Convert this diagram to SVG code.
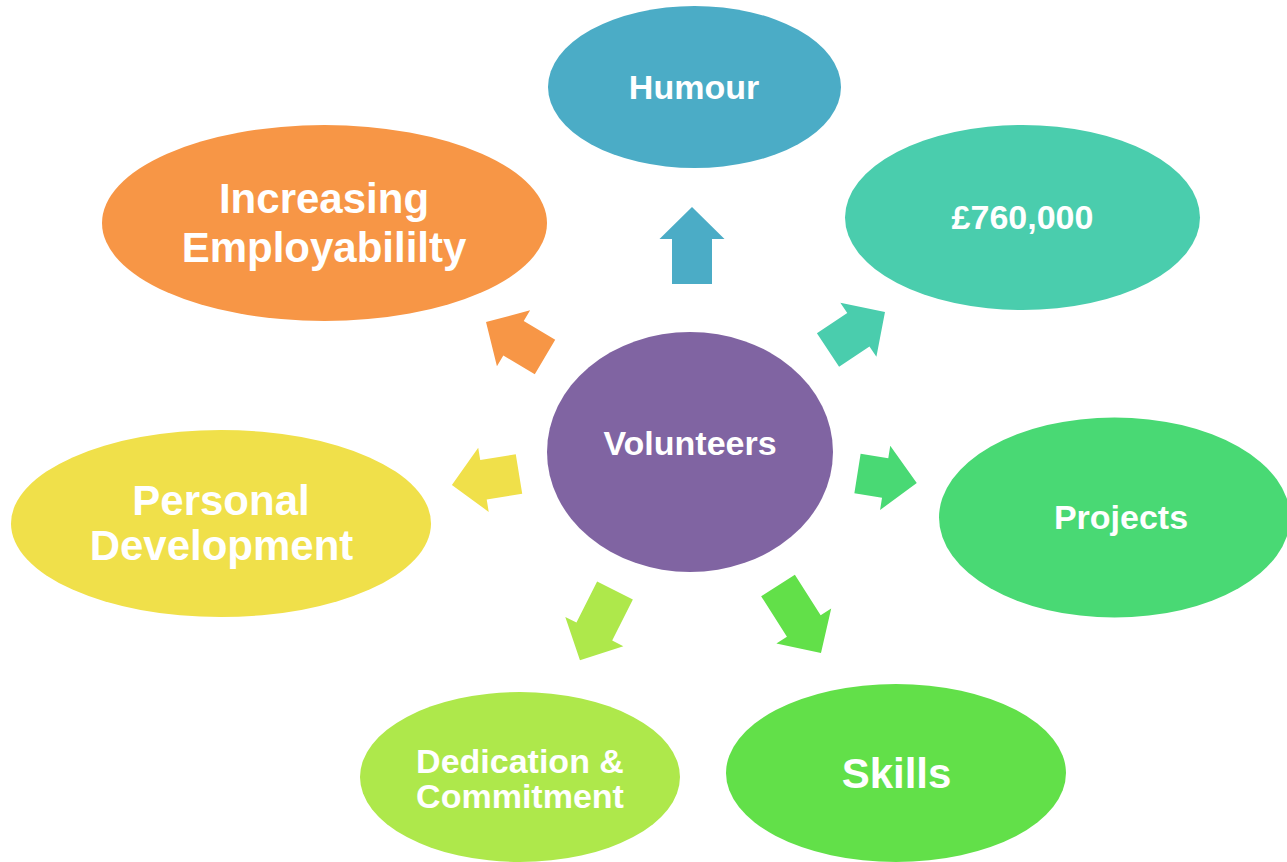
<svg xmlns="http://www.w3.org/2000/svg" width="1287" height="862" viewBox="0 0 1287 862">
<style>
text{font-family:"Liberation Sans",Arial,sans-serif;font-weight:bold;fill:#fff;text-anchor:middle}
.s34{font-size:34px}
.s42{font-size:42px}
</style>
<rect width="1287" height="862" fill="#fff"/>
<g id="connectors">
<g transform="translate(692,284) rotate(-90)"><path fill="#4BACC6" d="M0,-20H45V-32.5L77,0L45,32.5V20H0Z"/></g>
<g transform="translate(828,350) rotate(-33.7)"><path fill="#4ACDAD" d="M0,-20H36.5V-32.5L68.5,0L36.5,32.5V20H0Z"/></g>
<g transform="translate(857.5,473.5) rotate(9)"><path fill="#49D974" d="M0,-20H28V-32.5L60,0L28,32.5V20H0Z"/></g>
<g transform="translate(778,585.5) rotate(57.5)"><path fill="#62E049" d="M0,-20H48V-32.5L80,0L48,32.5V20H0Z"/></g>
<g transform="translate(615,590.5) rotate(116.7)"><path fill="#AEE84B" d="M0,-20H46V-32.5L78,0L46,32.5V20H0Z"/></g>
<g transform="translate(519,474) rotate(170.7)"><path fill="#F0E04A" d="M0,-20H36V-32.5L68,0L36,32.5V20H0Z"/></g>
<g transform="translate(545,357) rotate(210.7)"><path fill="#F79646" d="M0,-20H36.6V-32.5L68.6,0L36.6,32.5V20H0Z"/></g>
</g>
<g id="humour"><ellipse cx="694.5" cy="87" rx="146.5" ry="81" fill="#4BACC6"/><text class="s34" x="694" y="99">Humour</text></g>
<g id="money"><ellipse cx="1022.5" cy="217.5" rx="177.5" ry="92.5" fill="#4ACDAD"/><text class="s34" x="1022.5" y="229">£760,000</text></g>
<g id="projects"><ellipse cx="1114.5" cy="517.5" rx="175.5" ry="100" fill="#49D974"/><text class="s34" x="1121" y="529">Projects</text></g>
<g id="skills"><ellipse cx="896" cy="773" rx="170" ry="89" fill="#62E049"/><text class="s42" x="896.5" y="788">Skills</text></g>
<g id="dedication"><ellipse cx="520" cy="777" rx="160" ry="85" fill="#AEE84B"/><text class="s34" x="520" y="773">Dedication &amp;</text><text class="s34" x="520" y="808">Commitment</text></g>
<g id="personal"><ellipse cx="221" cy="523.5" rx="210" ry="93.5" fill="#F0E04A"/><text class="s42" x="221" y="515">Personal</text><text class="s42" x="221.5" y="560">Development</text></g>
<g id="employability"><ellipse cx="324.5" cy="223" rx="222.5" ry="98" fill="#F79646"/><text class="s42" x="324" y="213">Increasing</text><text class="s42" x="324" y="262">Employabililty</text></g>
<g id="volunteers"><ellipse cx="690" cy="452" rx="143" ry="120" fill="#8064A2"/><text class="s34" x="690" y="455">Volunteers</text></g>
</svg>
